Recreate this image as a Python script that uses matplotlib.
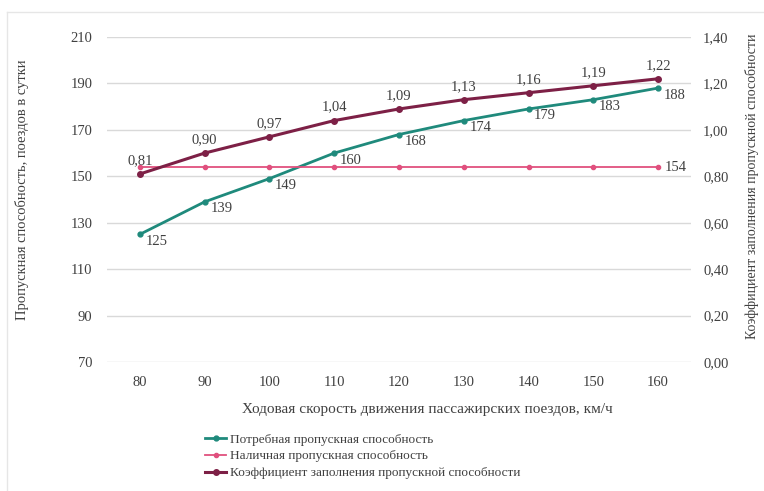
import matplotlib.pyplot as plt
from matplotlib.lines import Line2D

plt.rcParams["font.family"] = ["Liberation Serif", "DejaVu Serif"]

speeds = ["80", "90", "100", "110", "120", "130", "140", "150", "160"]
required = [125, 139, 149, 160, 168, 174, 179, 183, 188]
available = [154, 154, 154, 154, 154, 154, 154, 154, 154]
ratio = [0.81, 0.90, 0.97, 1.04, 1.09, 1.13, 1.16, 1.19, 1.22]

c_green = "#1f8a7c"
c_pink = "#e0507e"
c_maroon = "#7d2046"
txt = "#404040"

fig = plt.figure(figsize=(7.64, 4.91), dpi=100)
W, H = 764, 491
ax = fig.add_axes([107.5 / W, 1 - 362 / H, 583 / W, 325 / H])
ax2 = ax.twinx()

x = list(range(len(speeds)))

# lines
ax.plot(x, required, color=c_green, lw=2, marker="o", ms=3.5, zorder=3)
ax.plot(x, available, color=c_pink, lw=1.3, marker="o", ms=3, zorder=3)
ax2.plot(x, ratio, color=c_maroon, lw=2.2, marker="o", ms=4, zorder=3)

# data labels
for i, v in enumerate(required):
    ax.annotate(str(v), (i, v), xytext=(4, -5), textcoords="offset points",
                ha="left", va="center", fontsize=10.5, color=txt)
ax.annotate(str(available[-1]), (x[-1], available[-1]), xytext=(5, 0),
            textcoords="offset points", ha="left", va="center",
            fontsize=10.5, color=txt)
for i, v in enumerate(ratio):
    ax2.annotate(f"{v:.2f}".replace(".", ","), (i, v), xytext=(0, 5),
                 textcoords="offset points", ha="center", va="bottom",
                 fontsize=10.5, color=txt)

# axes
ax.set_xlim(-0.5, len(speeds) - 0.5)
ax.set_ylim(70, 210)
ax.set_yticks(range(70, 211, 20))
ax2.set_ylim(0, 1.4)
ax2.set_yticks([0, 0.2, 0.4, 0.6, 0.8, 1.0, 1.2, 1.4])
ax2.set_yticklabels([f"{t:.2f}".replace(".", ",")
                     for t in ax2.get_yticks()])
ax.set_xticks(x)
ax.set_xticklabels(speeds)

ax.grid(axis="y", color="#d9d9d9", lw=1)
ax.set_axisbelow(True)
for a in (ax, ax2):
    for s in a.spines.values():
        s.set_visible(False)
    a.tick_params(length=0, labelsize=10.5, colors=txt)
ax.tick_params(axis="y", pad=11)
ax2.tick_params(axis="y", pad=9)
ax.tick_params(axis="x", pad=10)

ax.set_ylabel("Пропускная способность, поездов в сутки", fontsize=10.5,
              color=txt)
ax.yaxis.set_label_coords((29 - 107.5) / 583, 0.53)
ax2.set_ylabel("Коэффициент заполнения пропускной способности",
               fontsize=10, color=txt)
ax2.yaxis.set_label_coords((745 - 107.5) / 583, 0.54)
fig.text(427 / W, 1 - 410 / H,
         "Ходовая скорость движения пассажирских поездов, км/ч",
         ha="center", va="center", fontsize=11, color=txt)

# legend
handles = [
    Line2D([], [], color=c_green, lw=2, marker="o", ms=3.5),
    Line2D([], [], color=c_pink, lw=1.3, marker="o", ms=3),
    Line2D([], [], color=c_maroon, lw=2.2, marker="o", ms=4),
]
labels = [
    "Потребная пропускная способность",
    "Наличная пропускная способность",
    "Коэффициент заполнения пропускной способности",
]
fig.legend(handles, labels, loc="upper left",
           bbox_to_anchor=(200 / W, 1 - 428 / H), frameon=False,
           fontsize=9.5, handlelength=1.6, handletextpad=0.3,
           labelspacing=0.35, labelcolor=txt, borderaxespad=0)

# faint frame
fig.add_artist(Line2D([7 / W, 7 / W], [0, 1 - 12 / H],
                      transform=fig.transFigure, color="#e6e6e6", lw=1))
fig.add_artist(Line2D([7 / W, 1], [1 - 12 / H, 1 - 12 / H],
                      transform=fig.transFigure, color="#e6e6e6", lw=1))

fig.savefig("out.png", dpi=100)
